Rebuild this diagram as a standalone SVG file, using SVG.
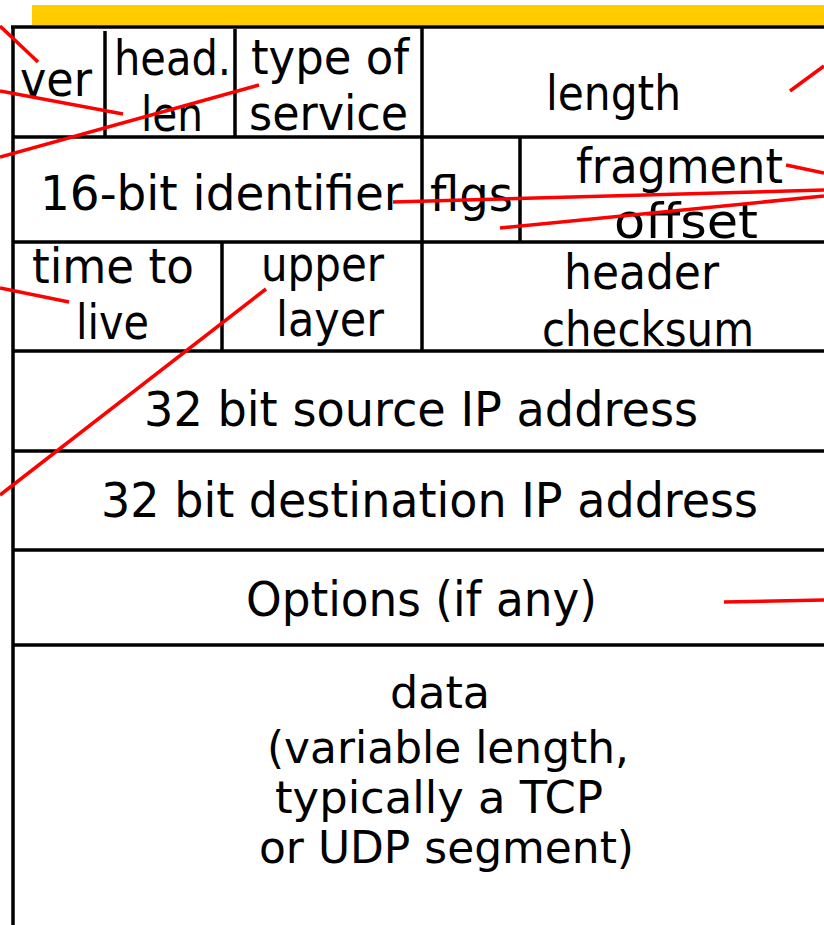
<svg xmlns="http://www.w3.org/2000/svg" width="824" height="925" viewBox="0 0 824 925">
  <style>
    .grid line { stroke: #000; stroke-width: 3.5; }
    .conn line { stroke: #ff0000; stroke-width: 3.5; stroke-linecap: butt; }
    text { font-family: "Comic Sans MS", "DejaVu Sans", sans-serif; font-size: 48px; fill: #000; }
    .dl { font-size: 44px; }
  </style>
  <rect id="title-bar" x="32" y="5" width="792" height="20" fill="#ffcc00"/>
  <g id="grid" class="grid">
    <line x1="11" y1="27" x2="824" y2="27"/>
    <line x1="13" y1="27" x2="13" y2="925"/>
    <line x1="105" y1="31" x2="105" y2="137"/>
    <line x1="235" y1="29" x2="235" y2="137"/>
    <line x1="422" y1="27" x2="422" y2="351"/>
    <line x1="13" y1="137" x2="824" y2="137"/>
    <line x1="520" y1="137" x2="520" y2="242"/>
    <line x1="13" y1="242" x2="824" y2="242"/>
    <line x1="222" y1="242" x2="222" y2="351"/>
    <line x1="13" y1="351" x2="824" y2="351"/>
    <line x1="13" y1="451" x2="824" y2="451"/>
    <line x1="13" y1="550" x2="824" y2="550"/>
    <line x1="13" y1="645" x2="824" y2="645"/>
  </g>
  <g id="ver"><text x="20" y="96" textLength="72" lengthAdjust="spacingAndGlyphs">ver</text></g>
  <g id="head-len">
    <text x="114" y="75" textLength="117" lengthAdjust="spacingAndGlyphs">head.</text>
    <text x="141" y="131" font-size="44" textLength="62" lengthAdjust="spacingAndGlyphs">len</text>
  </g>
  <g id="type-of-service">
    <text x="251" y="74" textLength="158" lengthAdjust="spacingAndGlyphs">type of</text>
    <text x="249" y="130" textLength="159" lengthAdjust="spacingAndGlyphs">service</text>
  </g>
  <g id="length"><text x="546" y="110" textLength="135" lengthAdjust="spacingAndGlyphs">length</text></g>
  <g id="identifier"><text x="40" y="210" textLength="363" lengthAdjust="spacingAndGlyphs">16-bit identifier</text></g>
  <g id="flgs"><text x="430" y="211" textLength="83" lengthAdjust="spacingAndGlyphs">flgs</text></g>
  <g id="fragment-offset">
    <text x="576" y="183" textLength="207" lengthAdjust="spacingAndGlyphs">fragment</text>
    <text x="614" y="238" textLength="144" lengthAdjust="spacingAndGlyphs">offset</text>
  </g>
  <g id="time-to-live">
    <text x="32" y="283" textLength="162" lengthAdjust="spacingAndGlyphs">time to</text>
    <text x="76" y="339" textLength="73" lengthAdjust="spacingAndGlyphs">live</text>
  </g>
  <g id="upper-layer">
    <text x="261" y="281" textLength="123" lengthAdjust="spacingAndGlyphs">upper</text>
    <text x="276" y="336" textLength="108" lengthAdjust="spacingAndGlyphs">layer</text>
  </g>
  <g id="header-checksum">
    <text x="564" y="289" textLength="155" lengthAdjust="spacingAndGlyphs">header</text>
    <text x="542" y="346" textLength="212" lengthAdjust="spacingAndGlyphs">checksum</text>
  </g>
  <g id="source-ip"><text x="144" y="426" font-size="50" textLength="554" lengthAdjust="spacingAndGlyphs">32 bit source IP address</text></g>
  <g id="dest-ip"><text x="101" y="517" textLength="657" lengthAdjust="spacingAndGlyphs">32 bit destination IP address</text></g>
  <g id="options"><text x="246" y="616" font-size="49" textLength="351" lengthAdjust="spacingAndGlyphs">Options (if any)</text></g>
  <g id="data">
    <text class="dl" x="390" y="708" textLength="100" lengthAdjust="spacingAndGlyphs">data</text>
    <text class="dl" x="267" y="763" textLength="362" lengthAdjust="spacingAndGlyphs">(variable length,</text>
    <text class="dl" x="275" y="813" textLength="328" lengthAdjust="spacingAndGlyphs">typically a TCP</text>
    <text class="dl" x="259" y="863" textLength="375" lengthAdjust="spacingAndGlyphs">or UDP segment)</text>
  </g>
  <g id="connectors" class="conn">
    <line x1="0" y1="26" x2="38" y2="62"/>
    <line x1="0" y1="91" x2="123" y2="114"/>
    <line x1="0" y1="157" x2="259" y2="85"/>
    <line x1="790" y1="91" x2="824" y2="66"/>
    <line x1="786" y1="165" x2="824" y2="173"/>
    <line x1="393" y1="202" x2="824" y2="190"/>
    <line x1="500" y1="228" x2="824" y2="196"/>
    <line x1="0" y1="288" x2="69" y2="302"/>
    <line x1="266" y1="289" x2="0" y2="495"/>
    <line x1="724" y1="602" x2="824" y2="600"/>
  </g>
</svg>
